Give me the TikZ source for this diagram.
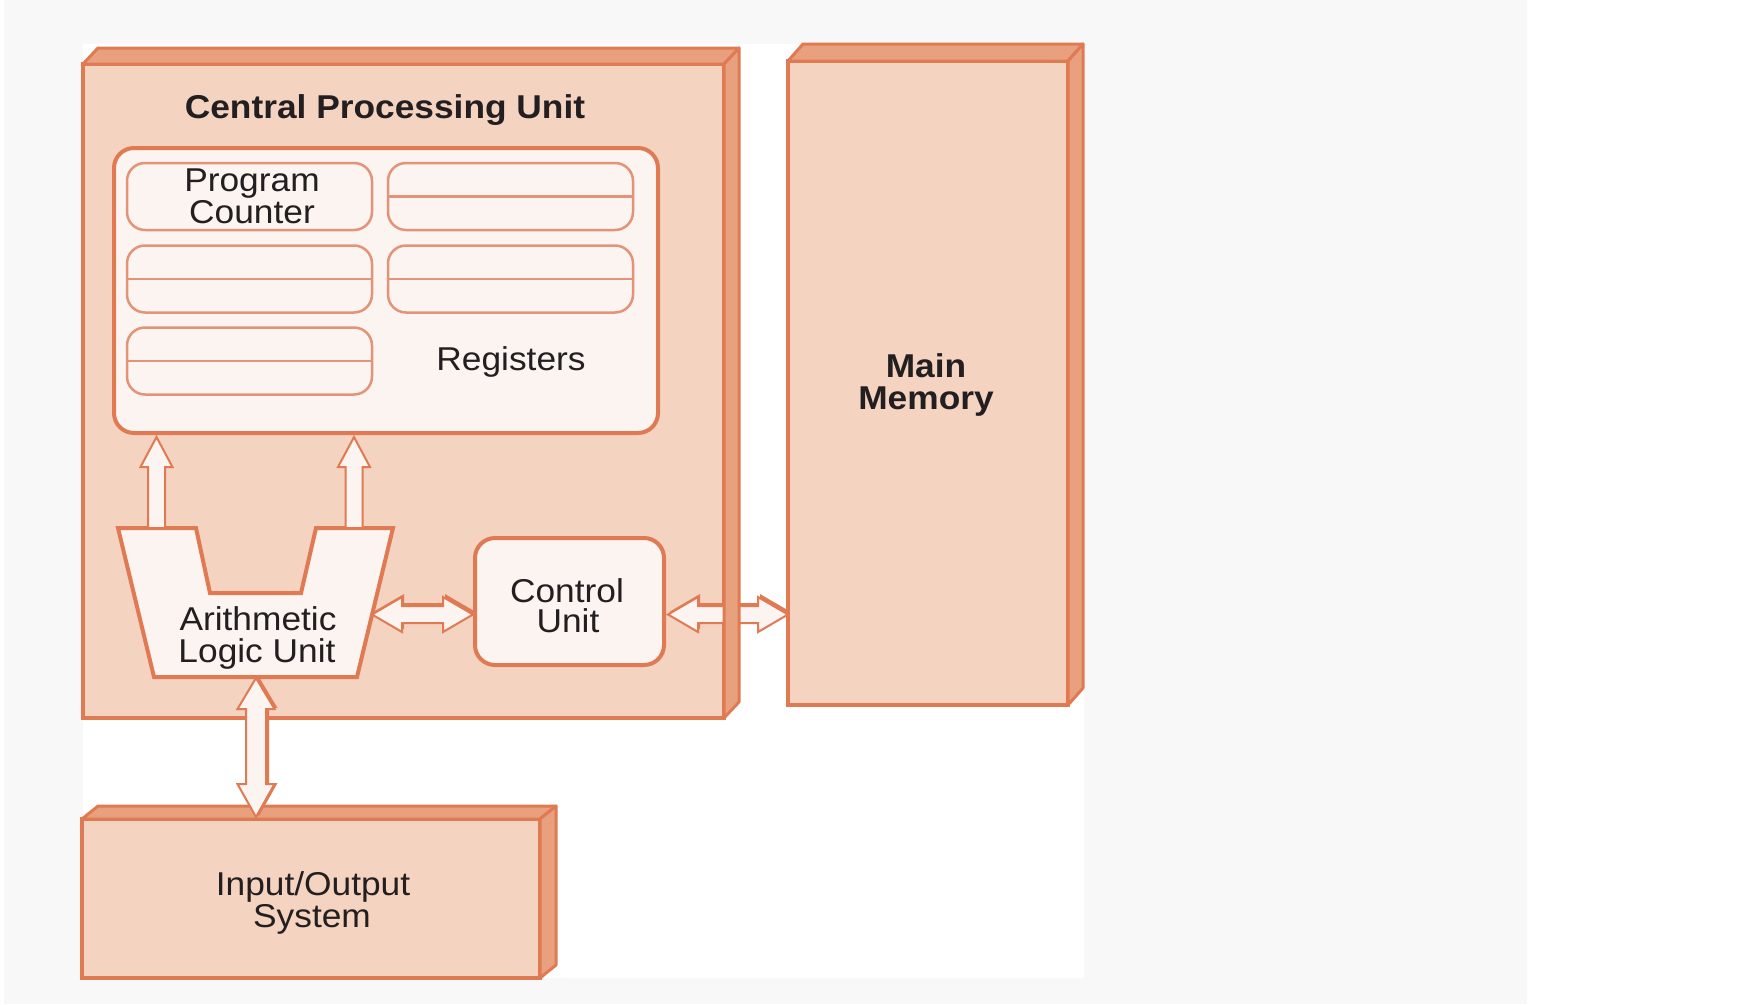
\documentclass[tikz,border=0pt]{standalone}
\usepackage{fontspec}
\setmainfont{Liberation Sans}[FakeStretch=1.07]
\usetikzlibrary{calc}
\definecolor{peach}{HTML}{F5D3C1}
\definecolor{edge}{HTML}{E07A52}
\definecolor{sideface}{HTML}{E9A07E}
\definecolor{inner}{HTML}{FBF4F0}
\definecolor{regedge}{HTML}{E39478}
\definecolor{ink}{HTML}{231F20}
\definecolor{bggray}{HTML}{F8F8F8}

% horizontal double block arrow: #1 left tip, #2 right tip
\newcommand\hdarr[2]{%
  \fill[edge, transform canvas={shift={(2pt,3pt)}}] (#1) -- ($(#1)+(30,-17.5)$) -- ($(#1)+(30,-8.5)$) -- ($(#2)+(-30,-8.5)$) -- ($(#2)+(-30,-17.5)$) -- (#2) -- ($(#2)+(-30,17.5)$) -- ($(#2)+(-30,8.5)$) -- ($(#1)+(30,8.5)$) -- ($(#1)+(30,17.5)$) -- cycle;
  \draw[arrowbody] (#1) -- ($(#1)+(30,-17.5)$) -- ($(#1)+(30,-8.5)$) -- ($(#2)+(-30,-8.5)$) -- ($(#2)+(-30,-17.5)$) -- (#2) -- ($(#2)+(-30,17.5)$) -- ($(#2)+(-30,8.5)$) -- ($(#1)+(30,8.5)$) -- ($(#1)+(30,17.5)$) -- cycle;}
% vertical double block arrow: #1 top tip, #2 bottom tip
\newcommand\vdarr[2]{%
  \fill[edge, transform canvas={shift={(3pt,1pt)}}] (#1) -- ($(#1)+(18.5,31)$) -- ($(#1)+(10,31)$) -- ($(#2)+(10,-33)$) -- ($(#2)+(18.5,-33)$) -- (#2) -- ($(#2)+(-18.5,-33)$) -- ($(#2)+(-10,-33)$) -- ($(#1)+(-10,31)$) -- ($(#1)+(-18.5,31)$) -- cycle;
  \draw[arrowbody] (#1) -- ($(#1)+(18.5,31)$) -- ($(#1)+(10,31)$) -- ($(#2)+(10,-33)$) -- ($(#2)+(18.5,-33)$) -- (#2) -- ($(#2)+(-18.5,-33)$) -- ($(#2)+(-10,-33)$) -- ($(#1)+(-10,31)$) -- ($(#1)+(-18.5,31)$) -- cycle;}
% single up block arrow: #1 tail (bottom), #2 tip (top)
\newcommand\uparr[2]{%
  \draw[arrowbody] (#2) -- ($(#2)+(16,30)$) -- ($(#2)+(8.5,30)$) -- ($(#1)+(8.5,0)$) -- ($(#1)+(-8.5,0)$) -- ($(#2)+(-8.5,30)$) -- ($(#2)+(-16,30)$) -- cycle;}

\begin{document}
\begin{tikzpicture}[x=1pt,y=-1pt,
  frontface/.style={draw=edge, fill=peach, line width=3.5pt, inner sep=0pt, outer sep=0pt},
  depthface/.style={draw=edge, fill=sideface, line width=3pt, line join=round},
  regbox/.style={draw=edge, fill=inner, line width=4pt, rounded corners=20pt, inner sep=0pt, outer sep=0pt},
  cell/.style={draw=regedge, fill=inner, line width=2.5pt, rounded corners=18pt,
    minimum width=245pt, minimum height=67pt, inner sep=0pt, outer sep=0pt},
  cellline/.style={draw=regedge, line width=2.5pt},
  alustyle/.style={draw=edge, fill=inner, line width=4pt, line join=miter},
  arrowbody/.style={draw=edge, fill=inner, line width=2pt, line join=miter},
  lbl/.style={font=\fontsize{33}{29}\selectfont, text=ink, anchor=base, inner sep=0pt},
  blbl/.style={font=\fontsize{33}{29}\selectfont\bfseries, text=ink, anchor=base, inner sep=0pt}]

\useasboundingbox (0,0) rectangle (1750,1004);
\fill[white] (0,0) rectangle (1750,1004);
\fill[bggray] (4,0) rectangle (1527,1004);
\fill[white] (83,44) rectangle (1084,978);

% CPU
\node[frontface, minimum width=641pt, minimum height=654pt] (cpu) at (403.5,391) {};
\draw[depthface] (cpu.north west) -- ++(15,-16) -- ($(cpu.north east)+(15,-16)$) -- (cpu.north east) -- cycle;
\node[blbl] (cputitle) at (385,118) {Central Processing Unit};

% Main memory
\node[frontface, minimum width=280pt, minimum height=644pt] (mem) at (928,383) {};
\draw[depthface] (mem.north west) -- ++(15,-17) -- ($(mem.north east)+(15,-17)$) -- (mem.north east) -- cycle;
\draw[depthface] (mem.north east) -- ++(15,-17) -- ($(mem.south east)+(15,-17)$) -- (mem.south east) -- cycle;
\node[blbl] (memA) at (926,377) {Main};
\node[blbl] (memB) at (926,409) {Memory};

% I/O system
\node[frontface, minimum width=458pt, minimum height=159pt] (io) at (311,898.5) {};
\draw[depthface] (io.north west) -- ++(16,-13) -- ($(io.north east)+(16,-13)$) -- (io.north east) -- cycle;
\draw[depthface] (io.north east) -- ++(16,-13) -- ($(io.south east)+(16,-13)$) -- (io.south east) -- cycle;
\node[lbl] (ioA) at (313,895) {Input/Output};
\node[lbl] (ioB) at (312,927) {System};

% Registers
\node[regbox, minimum width=544pt, minimum height=285pt] (regs) at (386,290.5) {};
\node[cell] (pc) at (249.5,196.5) {};
\node[cell] (r2) at (510.5,196.5) {};
\node[cell] (r3) at (249.5,279) {};
\node[cell] (r4) at (510.5,279) {};
\node[cell] (r5) at (249.5,361) {};
\draw[cellline] (r2.west) -- (r2.east);
\draw[cellline] (r3.west) -- (r3.east);
\draw[cellline] (r4.west) -- (r4.east);
\draw[cellline] (r5.west) -- (r5.east);
\node[lbl] (pcA) at (252,191.5) {Program};
\node[lbl] (pcB) at (252,223.5) {Counter};
\node[lbl] (regl) at (511,370) {Registers};

% ALU
\draw[alustyle] (118,528) -- (196,528) -- (210,593) -- (301,593) -- (316,528) -- (393,528) -- (357,677) -- (154,677) -- cycle;
\coordinate (aluP1) at (156.5,528);
\coordinate (aluP2) at (354,528);
\coordinate (aluR) at (372,614.5);
\coordinate (aluB) at (256,678);
\node[lbl] (aluA) at (258,630) {Arithmetic};
\node[lbl] (aluC) at (257,662) {Logic Unit};

% Control unit
\node[regbox, minimum width=189pt, minimum height=127pt] (cu) at (569.5,601.5) {};
\node[lbl] (cuA) at (567,602) {Control};
\node[lbl] (cuB) at (568,632) {Unit};

% connector end points
\coordinate (t1) at ($(aluP1 |- regs.south)+(0,4)$);
\coordinate (t2) at ($(aluP2 |- regs.south)+(0,4)$);
\coordinate (cuL) at ($(cu.west)+(-2,13)$);
\coordinate (cuR) at ($(cu.east)+(4,13)$);
\coordinate (memL) at (cuR -| mem.west);
\coordinate (ioT) at ($(aluB |- io.north)+(0,-2)$);

% arrows
\uparr{aluP1}{t1}
\uparr{aluP2}{t2}
\hdarr{aluR}{cuL}
\hdarr{cuR}{memL}
\vdarr{aluB}{ioT}

% CPU side face (over the memory arrow)
\draw[depthface] (cpu.north east) -- ++(15,-16) -- ($(cpu.south east)+(15,-16)$) -- (cpu.south east) -- cycle;
\end{tikzpicture}
\end{document}
